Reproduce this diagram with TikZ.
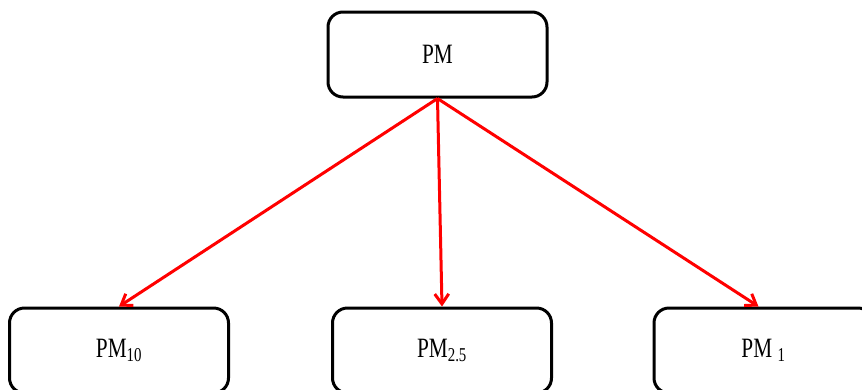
\documentclass[tikz,border=0pt]{standalone}
\usepackage{fontspec}
\setmainfont[FakeStretch=0.76]{Liberation Serif}
\usetikzlibrary{arrows.meta}
\begin{document}
\begin{tikzpicture}[x=1pt,y=-1pt,
  pmbox/.style={draw=black, line width=3pt, rounded corners=15pt,
    minimum width=219pt, minimum height=85pt, inner sep=0pt,
    font=\fontsize{28}{32}\selectfont},
  link/.style={draw=red, line width=3pt,
    -{Straight Barb[length=10pt,width=14pt,line width=3pt]}}]
  \useasboundingbox (0,0) rectangle (862,389);
  \begin{scope}
    \clip (0,0) rectangle (862,389);
    \node[pmbox] (pm)   at (437.5,54.5) {PM};
    \node[pmbox] (pm10) at (119,350.5) {PM\textsubscript{10}};
    \node[pmbox] (pm25) at (442,350.5) {PM\textsubscript{2.5}};
    \node[pmbox] (pm1)  at (763.5,350.5) {PM \textsubscript{1}};
    \draw[link] (pm.south) -- (pm10.north);
    \draw[link] (pm.south) -- (pm25.north);
    \draw[link] (pm.south) -- ([xshift=-5pt]pm1.north);
  \end{scope}
\end{tikzpicture}
\end{document}
